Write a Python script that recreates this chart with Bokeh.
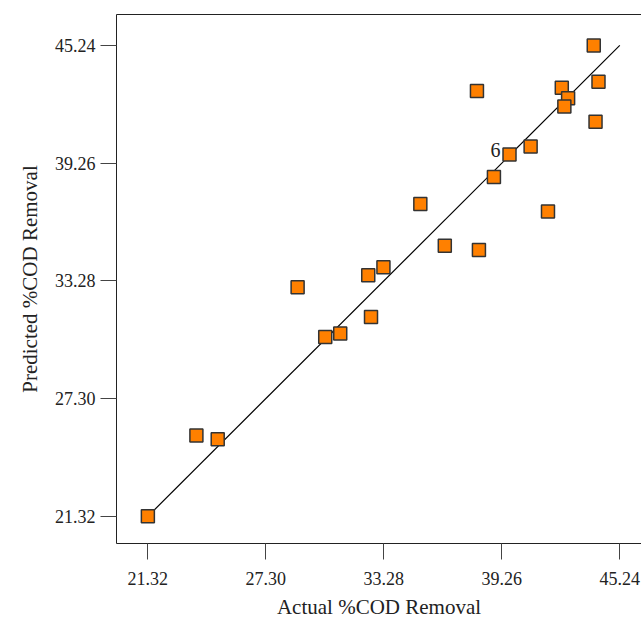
from bokeh.plotting import figure
from bokeh.models import (FixedTicker, PrintfTickFormatter, LinearAxis,
                          ColumnDataSource, Range1d)
from bokeh.embed import file_html
from bokeh.resources import INLINE
from bokeh.core.properties import value

# ---- data -------------------------------------------------------------
actual = [21.32, 23.78, 24.86, 28.91, 30.31, 31.07, 32.49, 32.63, 33.26,
          35.13, 36.37, 38.00, 38.10, 38.86, 39.65, 40.72, 41.60, 42.30,
          42.62, 42.43, 43.92, 44.16, 44.01]
predicted = [21.32, 25.42, 25.24, 32.95, 30.43, 30.61, 33.57, 31.45, 33.97,
             37.19, 35.07, 42.92, 34.85, 38.55, 39.70, 40.10, 36.80, 43.09,
             42.55, 42.14, 45.24, 43.40, 41.36]
run_labels = ["", "", "", "", "", "", "", "", "", "", "", "", "", "",
              "6", "", "", "", "", "", "", "", ""]
tick_values = [21.32, 27.30, 33.28, 39.26, 45.24]
diag = [min(tick_values), max(tick_values)]

x_title = "Actual %COD Removal"
y_title = "Predicted %COD Removal"

FONT = "Liberation Serif"

# ---- figure -----------------------------------------------------------
p = figure(width=641, height=621, output_backend="svg", toolbar_location=None,
           x_range=Range1d(19.73, 46.34), y_range=Range1d(19.94, 46.81),
           min_border_left=116, min_border_right=0, min_border_top=14,
           min_border_bottom=78)
p.background_fill_color = "white"
p.border_fill_color = "white"
p.outline_line_color = None
p.xgrid.visible = False
p.ygrid.visible = False

for ax, title in ((p.xaxis[0], x_title), (p.yaxis[0], y_title)):
    ax.ticker = FixedTicker(ticks=tick_values)
    ax.formatter = PrintfTickFormatter(format="%.2f")
    ax.major_tick_out = 16
    ax.major_tick_in = 0
    ax.minor_tick_line_color = None
    ax.major_tick_line_color = "#444444"
    ax.axis_line_color = "#222222"
    ax.major_label_text_font = FONT
    ax.major_label_text_font_size = "18px"
    ax.major_label_text_color = "#222222"
    ax.axis_label = title
    ax.axis_label_text_font = FONT
    ax.axis_label_text_font_size = "21px"
    ax.axis_label_text_font_style = "normal"
    ax.axis_label_text_color = "#222222"

p.xaxis[0].major_label_standoff = 12
p.xaxis[0].axis_label_standoff = 7
p.yaxis[0].major_label_standoff = 5
p.yaxis[0].axis_label_standoff = 10

# top frame line
top = LinearAxis(ticker=FixedTicker(ticks=[]), major_label_text_font_size="0px",
                 major_tick_out=0, major_tick_in=0, major_label_standoff=0,
                 minor_tick_line_color=None, axis_line_color="#222222")
p.add_layout(top, "above")

# diagonal reference line
p.line(diag, diag, line_color="black", line_width=1.2)

src = ColumnDataSource(dict(x=actual, y=predicted, lab=run_labels))
p.scatter("x", "y", source=src, marker="square", size=13,
          fill_color="#FF8000", line_color="#333333", line_width=1.5)
p.text("x", "y", text="lab", source=src, text_font=value(FONT),
       text_font_size="20px", text_align="right", text_baseline="middle",
       x_offset=-9, y_offset=-4, text_color="#222222")

open("out.html", "w").write(file_html(p, INLINE))
